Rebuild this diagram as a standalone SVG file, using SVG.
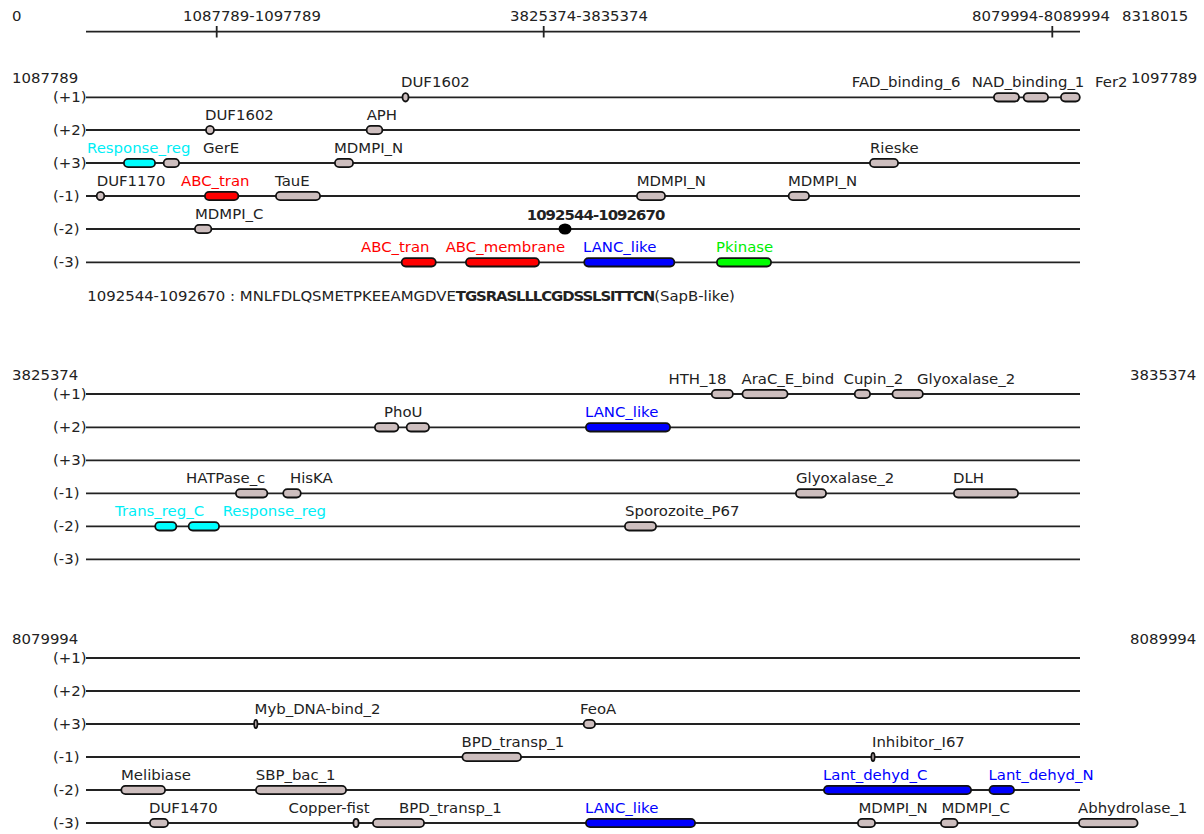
<svg xmlns="http://www.w3.org/2000/svg" width="1204" height="834" viewBox="0 0 1204 834">
<style>
text{font-family:"DejaVu Sans","Liberation Sans",sans-serif;font-size:14.9px;fill:#222}
.trk{stroke:#222;stroke-width:1.8;fill:none}
.d{fill:#cdbebe;stroke:#111;stroke-width:1.8}
.cy{fill:#00ffff}.rd{fill:#ff0000}.bl{fill:#0000ff}.gr{fill:#00ff00}
text.cy{fill:#00eef6}text.rd{fill:#ff0000}text.bl{fill:#0000ff}text.gr{fill:#00ee00}
.b{font-weight:bold}
</style>
<rect width="1204" height="834" fill="#fff"/>
<g id="axis">
<line class="trk" x1="86" y1="31.7" x2="1080" y2="31.7"/>
<line class="trk" x1="216.7" y1="26" x2="216.7" y2="37.5" stroke-width="2.2"/>
<line class="trk" x1="543.7" y1="26" x2="543.7" y2="37.5" stroke-width="2.2"/>
<line class="trk" x1="1052.3" y1="26" x2="1052.3" y2="37.5" stroke-width="2.2"/>
<text x="12" y="21">0</text>
<text x="183" y="21">1087789-1097789</text>
<text x="510" y="21">3825374-3835374</text>
<text x="972" y="21">8079994-8089994</text>
<text x="1122" y="21">8318015</text>
</g>
<g id="connectors">
<line class="trk" x1="86" y1="97.3" x2="1080" y2="97.3"/>
<line class="trk" x1="86" y1="130" x2="1080" y2="130"/>
<line class="trk" x1="86" y1="163" x2="1080" y2="163"/>
<line class="trk" x1="86" y1="196" x2="1080" y2="196"/>
<line class="trk" x1="86" y1="229" x2="1080" y2="229"/>
<line class="trk" x1="86" y1="262.3" x2="1080" y2="262.3"/>
<line class="trk" x1="86" y1="394" x2="1080" y2="394"/>
<line class="trk" x1="86" y1="427.3" x2="1080" y2="427.3"/>
<line class="trk" x1="86" y1="460.3" x2="1080" y2="460.3"/>
<line class="trk" x1="86" y1="493.3" x2="1080" y2="493.3"/>
<line class="trk" x1="86" y1="526.3" x2="1080" y2="526.3"/>
<line class="trk" x1="86" y1="559.3" x2="1080" y2="559.3"/>
<line class="trk" x1="86" y1="658" x2="1080" y2="658"/>
<line class="trk" x1="86" y1="691" x2="1080" y2="691"/>
<line class="trk" x1="86" y1="724" x2="1080" y2="724"/>
<line class="trk" x1="86" y1="757" x2="1080" y2="757"/>
<line class="trk" x1="86" y1="790" x2="1080" y2="790"/>
<line class="trk" x1="86" y1="823" x2="1080" y2="823"/>
</g>
<g id="labels">
<text x="12" y="83.3">1087789</text><text x="1131" y="83">1097789</text>
<text x="53" y="102.3">(+1)</text><text x="53" y="135">(+2)</text><text x="53" y="168">(+3)</text>
<text x="53" y="201">(-1)</text><text x="53" y="234">(-2)</text><text x="53" y="267.3">(-3)</text>
<text x="12" y="380">3825374</text><text x="1130" y="380">3835374</text>
<text x="53" y="399">(+1)</text><text x="53" y="432.3">(+2)</text><text x="53" y="465.3">(+3)</text>
<text x="53" y="498.3">(-1)</text><text x="53" y="531.3">(-2)</text><text x="53" y="564.3">(-3)</text>
<text x="12" y="643.5">8079994</text><text x="1130" y="643.5">8089994</text>
<text x="53" y="663">(+1)</text><text x="53" y="696">(+2)</text><text x="53" y="729">(+3)</text>
<text x="53" y="762">(-1)</text><text x="53" y="795">(-2)</text><text x="53" y="828">(-3)</text>
<text x="87.3" y="300.5">1092544-1092670 : MNLFDLQSMETPKEEAMGDVE<tspan class="b" letter-spacing="-1.1">TGSRASLLLCGDSSLSITTCN</tspan>(SapB-like)</text>
</g>
<g id="s1-p1-DUF1602"><ellipse class="d" cx="405.5" cy="97.3" rx="3" ry="4.2"/><text x="401" y="87.3">DUF1602</text></g>
<g id="s1-p1-FAD_binding_6"><rect class="d" x="993.9" y="93.1" width="25.2" height="8.4" rx="4.2"/><text x="851.7" y="87.3">FAD_binding_6</text></g>
<g id="s1-p1-NAD_binding_1"><rect class="d" x="1023.6" y="93.1" width="24.5" height="8.4" rx="4.2"/><text x="971.7" y="87.3">NAD_binding_1</text></g>
<g id="s1-p1-Fer2"><rect class="d" x="1060.9" y="93.1" width="18.9" height="8.4" rx="4.2"/><text x="1095" y="87.3">Fer2</text></g>
<g id="s1-p2-DUF1602"><ellipse class="d" cx="210" cy="130" rx="4" ry="4.2"/><text x="205" y="120">DUF1602</text></g>
<g id="s1-p2-APH"><rect class="d" x="366.6" y="125.8" width="15.8" height="8.4" rx="4.2"/><text x="366.7" y="120">APH</text></g>
<g id="s1-p3-Response_reg"><rect class="d cy" x="123.9" y="158.8" width="31.2" height="8.4" rx="4.2"/><text class="cy" x="87" y="153">Response_reg</text></g>
<g id="s1-p3-GerE"><rect class="d" x="163.6" y="158.8" width="15.5" height="8.4" rx="4.2"/><text x="203" y="153">GerE</text></g>
<g id="s1-p3-MDMPI_N"><rect class="d" x="334.9" y="158.8" width="18.2" height="8.4" rx="4.2"/><text x="334" y="153">MDMPI_N</text></g>
<g id="s1-p3-Rieske"><rect class="d" x="869.9" y="158.8" width="28.2" height="8.4" rx="4.2"/><text x="870" y="153">Rieske</text></g>
<g id="s1-m1-DUF1170"><ellipse class="d" cx="100.5" cy="196" rx="3.8" ry="4.2"/><text x="96.7" y="186">DUF1170</text></g>
<g id="s1-m1-ABC_tran"><rect class="d rd" x="204.9" y="191.8" width="33.5" height="8.4" rx="4.2"/><text class="rd" x="181" y="186">ABC_tran</text></g>
<g id="s1-m1-TauE"><rect class="d" x="275.9" y="191.8" width="44.2" height="8.4" rx="4.2"/><text x="275" y="186">TauE</text></g>
<g id="s1-m1-MDMPI_N-a"><rect class="d" x="636.9" y="191.8" width="28.2" height="8.4" rx="4.2"/><text x="636.7" y="186">MDMPI_N</text></g>
<g id="s1-m1-MDMPI_N-b"><rect class="d" x="788.6" y="191.8" width="20.5" height="8.4" rx="4.2"/><text x="788" y="186">MDMPI_N</text></g>
<g id="s1-m2-MDMPI_C"><rect class="d" x="194.9" y="224.8" width="16.5" height="8.4" rx="4.2"/><text x="195" y="219">MDMPI_C</text></g>
<g id="s1-m2-SapB"><ellipse cx="565" cy="229" rx="6.5" ry="5.5" fill="#000"/><text class="b" x="526.7" y="219.5" letter-spacing="-0.9">1092544-1092670</text></g>
<g id="s1-m3-ABC_tran"><rect class="d rd" x="401.6" y="258.1" width="34.2" height="8.4" rx="4.2"/><text class="rd" x="361" y="252.3">ABC_tran</text></g>
<g id="s1-m3-ABC_membrane"><rect class="d rd" x="465.9" y="258.1" width="73.2" height="8.4" rx="4.2"/><text class="rd" x="445.7" y="252.3">ABC_membrane</text></g>
<g id="s1-m3-LANC_like"><rect class="d bl" x="584.2" y="258.1" width="90.2" height="8.4" rx="4.2"/><text class="bl" x="583" y="252.3">LANC_like</text></g>
<g id="s1-m3-Pkinase"><rect class="d gr" x="716.9" y="258.1" width="54.2" height="8.4" rx="4.2"/><text class="gr" x="716" y="252.3">Pkinase</text></g>
<g id="s2-p1-HTH_18"><rect class="d" x="711.7" y="389.8" width="21.2" height="8.4" rx="4.2"/><text x="668.5" y="384">HTH_18</text></g>
<g id="s2-p1-AraC_E_bind"><rect class="d" x="742.4" y="389.8" width="45.2" height="8.4" rx="4.2"/><text x="741.5" y="384">AraC_E_bind</text></g>
<g id="s2-p1-Cupin_2"><rect class="d" x="854.7" y="389.8" width="15.4" height="8.4" rx="4.2"/><text x="843.5" y="384">Cupin_2</text></g>
<g id="s2-p1-Glyoxalase_2"><rect class="d" x="892.4" y="389.8" width="30.5" height="8.4" rx="4.2"/><text x="917" y="384">Glyoxalase_2</text></g>
<g id="s2-p2-PhoU"><rect class="d" x="374.9" y="423.1" width="23.5" height="8.4" rx="4.2"/><rect class="d" x="406.6" y="423.1" width="22.5" height="8.4" rx="4.2"/><text x="384" y="417.3">PhoU</text></g>
<g id="s2-p2-LANC_like"><rect class="d bl" x="585.9" y="423.1" width="84.2" height="8.4" rx="4.2"/><text class="bl" x="585" y="417.3">LANC_like</text></g>
<g id="s2-m1-HATPase_c"><rect class="d" x="235.9" y="489.1" width="31.5" height="8.4" rx="4.2"/><text x="186" y="483.3">HATPase_c</text></g>
<g id="s2-m1-HisKA"><rect class="d" x="283.2" y="489.1" width="17.6" height="8.4" rx="4.2"/><text x="290" y="483.3">HisKA</text></g>
<g id="s2-m1-Glyoxalase_2"><rect class="d" x="795.9" y="489.1" width="30.2" height="8.4" rx="4.2"/><text x="796" y="483.3">Glyoxalase_2</text></g>
<g id="s2-m1-DLH"><rect class="d" x="953.9" y="489.1" width="64.2" height="8.4" rx="4.2"/><text x="953" y="483.3">DLH</text></g>
<g id="s2-m2-Trans_reg_C"><rect class="d cy" x="155.2" y="522.1" width="21.2" height="8.4" rx="4.2"/><text class="cy" x="115" y="516.3">Trans_reg_C</text></g>
<g id="s2-m2-Response_reg"><rect class="d cy" x="188.6" y="522.1" width="30.5" height="8.4" rx="4.2"/><text class="cy" x="222.7" y="516.3">Response_reg</text></g>
<g id="s2-m2-Sporozoite_P67"><rect class="d" x="624.9" y="522.1" width="31.2" height="8.4" rx="4.2"/><text x="625" y="516.3">Sporozoite_P67</text></g>
<g id="s3-p3-Myb_DNA-bind_2"><ellipse class="d" cx="255.8" cy="724" rx="1.6" ry="4.2"/><text x="254.6" y="714">Myb_DNA-bind_2</text></g>
<g id="s3-p3-FeoA"><rect class="d" x="583.6" y="719.8" width="11.5" height="8.4" rx="4.2"/><text x="580" y="714">FeoA</text></g>
<g id="s3-m1-BPD_transp_1"><rect class="d" x="462.4" y="752.8" width="58.7" height="8.4" rx="4.2"/><text x="461.5" y="747">BPD_transp_1</text></g>
<g id="s3-m1-Inhibitor_I67"><ellipse class="d" cx="873" cy="757" rx="1.6" ry="4.2"/><text x="872" y="747">Inhibitor_I67</text></g>
<g id="s3-m2-Melibiase"><rect class="d" x="121.3" y="785.8" width="43.8" height="8.4" rx="4.2"/><text x="121" y="780">Melibiase</text></g>
<g id="s3-m2-SBP_bac_1"><rect class="d" x="255.9" y="785.8" width="90.2" height="8.4" rx="4.2"/><text x="255.8" y="780">SBP_bac_1</text></g>
<g id="s3-m2-Lant_dehyd_C"><rect class="d bl" x="823.9" y="785.8" width="147.2" height="8.4" rx="4.2"/><text class="bl" x="823" y="780">Lant_dehyd_C</text></g>
<g id="s3-m2-Lant_dehyd_N"><rect class="d bl" x="989.4" y="785.8" width="24.7" height="8.4" rx="4.2"/><text class="bl" x="988.5" y="780">Lant_dehyd_N</text></g>
<g id="s3-m3-DUF1470"><rect class="d" x="149.9" y="818.8" width="18.2" height="8.4" rx="4.2"/><text x="149" y="813">DUF1470</text></g>
<g id="s3-m3-Copper-fist"><ellipse class="d" cx="356" cy="823" rx="2.6" ry="4.2"/><text x="288.5" y="813">Copper-fist</text></g>
<g id="s3-m3-BPD_transp_1"><rect class="d" x="372.9" y="818.8" width="51.2" height="8.4" rx="4.2"/><text x="399" y="813">BPD_transp_1</text></g>
<g id="s3-m3-LANC_like"><rect class="d bl" x="585.9" y="818.8" width="109.2" height="8.4" rx="4.2"/><text class="bl" x="585" y="813">LANC_like</text></g>
<g id="s3-m3-MDMPI_N"><rect class="d" x="857.9" y="818.8" width="17.2" height="8.4" rx="4.2"/><text x="858.5" y="813">MDMPI_N</text></g>
<g id="s3-m3-MDMPI_C"><rect class="d" x="940.9" y="818.8" width="16.7" height="8.4" rx="4.2"/><text x="941.5" y="813">MDMPI_C</text></g>
<g id="s3-m3-Abhydrolase_1"><rect class="d" x="1078.9" y="818.8" width="58.7" height="8.4" rx="4.2"/><text x="1078" y="813">Abhydrolase_1</text></g>
</svg>
